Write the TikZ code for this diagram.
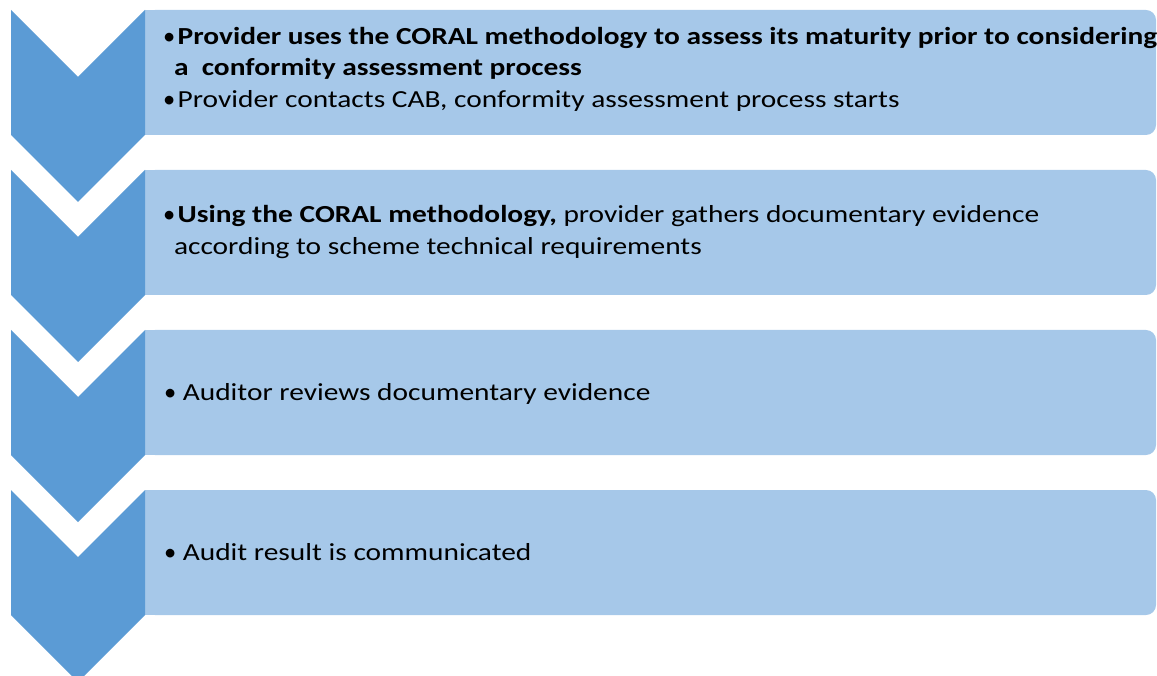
\documentclass[tikz,border=0pt]{standalone}
\usepackage{fontspec}
\setmainfont{Carlito}[FakeStretch=1.2]
\newfontfamily\bulfont{Carlito}
\newcommand{\bul}{{\bulfont\mdseries •}\kern2.5pt}
\newcommand{\bulsp}{{\bulfont\mdseries •}\ }
\definecolor{chev}{HTML}{5B9BD5}
\definecolor{boxc}{HTML}{A6C8E9}
\tikzset{
  chevron/.style={fill=chev, draw=none},
  stepbg/.style={fill=boxc, draw=none},
  txt/.style={anchor=base west, inner sep=0pt, outer sep=0pt, font=\fontsize{24.5}{29}\selectfont, text=black},
}
\begin{document}
\begin{tikzpicture}[x=1pt,y=-1pt]
\useasboundingbox (0,0) rectangle (1157,676);
\foreach \i in {0,1,2,3}{
  \pgfmathsetmacro{\t}{10+160*\i}
  \fill[stepbg, rounded corners=10pt] (145,\t) rectangle (1156,\t+125);
  \fill[stepbg] (145,\t) rectangle (170,\t+125);
  \fill[chevron] (11,\t) -- (78,\t+67) -- (145,\t) -- (145,\t+125) -- (78,\t+192) -- (11,\t+125) -- cycle;
}
\node[txt] (a1) at (163,45) {\bul\textbf{Provider uses the CORAL methodology to assess its maturity prior to considering}};
\node[txt] (a2) at (174,76) {\textbf{a\ \ conformity assessment process}};
\node[txt] (a3) at (163,108) {\bul Provider contacts CAB, conformity assessment process starts};
\node[txt] (b1) at (163,223) {\bul\textbf{Using the CORAL methodology,} provider gathers documentary evidence};
\node[txt] (b2) at (174,255) {according to scheme technical requirements};
\node[txt] (c1) at (164,400) {\bulsp Auditor reviews documentary evidence};
\node[txt] (d1) at (164,560) {\bulsp Audit result is communicated};
\end{tikzpicture}
\end{document}
